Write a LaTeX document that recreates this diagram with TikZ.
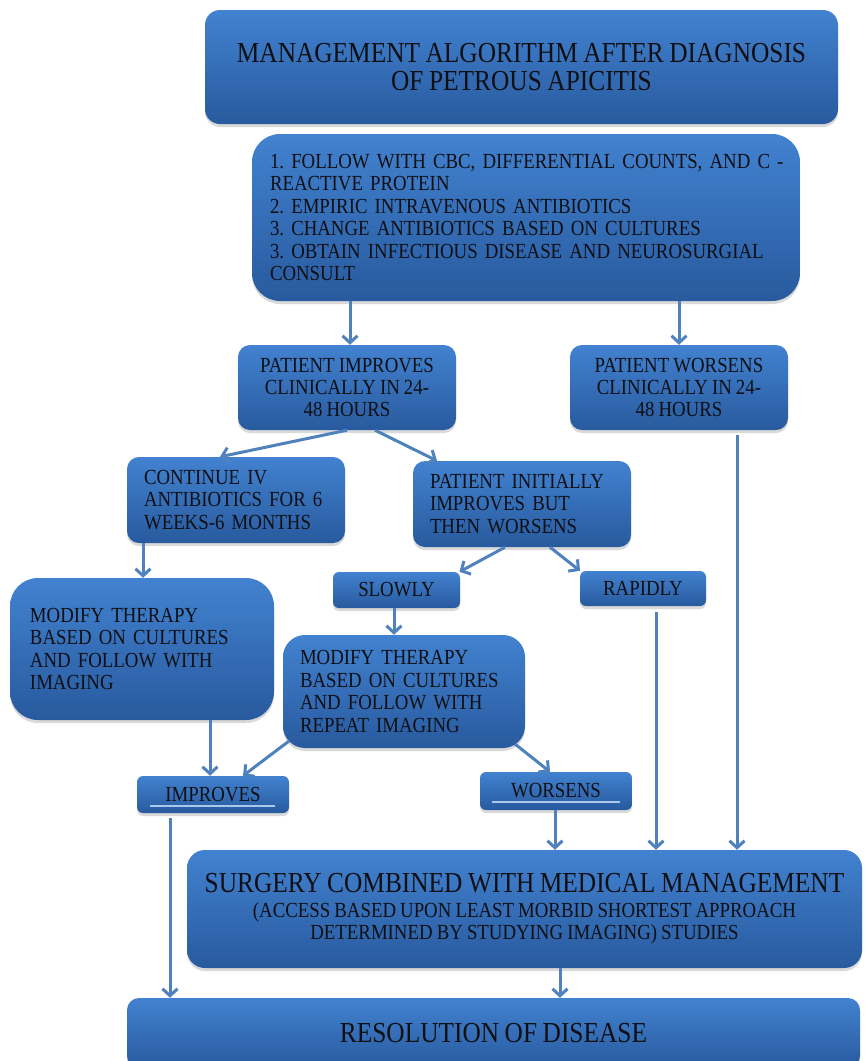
\documentclass[tikz,border=0pt]{standalone}
\usepackage{fontspec}
\setmainfont[FakeStretch=0.875, WordSpace=0.875]{Liberation Serif}
\usetikzlibrary{arrows.meta,shadows,calc}
\definecolor{boxtop}{RGB}{66,130,208}
\definecolor{boxbot}{RGB}{40,90,158}
\definecolor{arr}{RGB}{79,129,189}
\definecolor{ul}{RGB}{170,200,235}
\definecolor{txt}{RGB}{15,15,20}
\frenchspacing
\tikzset{
  box/.style={draw=none, top color=boxtop, bottom color=boxbot, text=txt, inner sep=0pt,
    drop shadow={shadow xshift=0pt, shadow yshift=-3pt, opacity=0.3}},
  normal/.style={font=\fontsize{21.5}{22.4}\selectfont},
  big/.style={font=\fontsize{29}{28}\selectfont},
  conn/.style={draw=arr, line width=3pt, -{Straight Barb[length=7pt,width=15pt]}},
  uline/.style={draw=ul, line width=2pt},
}
\begin{document}
\begin{tikzpicture}[x=1pt,y=-1pt]
\path[use as bounding box] (0,0) rectangle (865,1061);
\clip (0,0) rectangle (865,1061);

\node[box, big, rounded corners=15pt, minimum width=633pt, minimum height=114pt, align=center]
  (title) at (521.5,67) {MANAGEMENT ALGORITHM AFTER DIAGNOSIS\\OF PETROUS APICITIS};

\node[box, normal, rounded corners=28pt, minimum width=548pt, minimum height=167pt, text width=512pt, align=left]
  (box2) at (526,217.5) {\mbox{1. FOLLOW WITH CBC, DIFFERENTIAL COUNTS, AND C -}\\REACTIVE PROTEIN\\2. EMPIRIC INTRAVENOUS ANTIBIOTICS\\3. CHANGE ANTIBIOTICS BASED ON CULTURES\\\mbox{3. OBTAIN INFECTIOUS DISEASE AND NEUROSURGIAL}\\CONSULT};

\node[box, normal, rounded corners=12pt, minimum width=218pt, minimum height=85pt, align=center]
  (imp) at (347,387.5) {PATIENT IMPROVES\\CLINICALLY IN 24-\\48 HOURS};
\node[box, normal, rounded corners=12pt, minimum width=218pt, minimum height=85pt, align=center]
  (wor) at (679,387.5) {PATIENT WORSENS\\CLINICALLY IN 24-\\48 HOURS};

\node[box, normal, rounded corners=12pt, minimum width=218pt, minimum height=86pt, text width=184pt, align=left]
  (cont) at (236,500) {CONTINUE IV\\ANTIBIOTICS FOR 6\\WEEKS-6 MONTHS};
\node[box, normal, rounded corners=12pt, minimum width=218pt, minimum height=86pt, text width=184pt, align=left]
  (init) at (522,504) {PATIENT INITIALLY\\IMPROVES BUT\\THEN WORSENS};

\node[box, normal, rounded corners=6pt, minimum width=127pt, minimum height=36pt]
  (slowly) at (396.5,590) {SLOWLY};
\node[box, normal, rounded corners=6pt, minimum width=126pt, minimum height=35pt]
  (rapidly) at (643,588.5) {RAPIDLY};

\node[box, normal, rounded corners=28pt, minimum width=264pt, minimum height=142pt, text width=224pt, align=left]
  (modL) at (142,649) {MODIFY THERAPY\\BASED ON CULTURES\\AND FOLLOW WITH\\IMAGING};
\node[box, normal, rounded corners=22pt, minimum width=242pt, minimum height=113pt, text width=208pt, align=left]
  (modM) at (404,691.5) {MODIFY THERAPY\\BASED ON CULTURES\\AND FOLLOW WITH\\REPEAT IMAGING};

\node[box, normal, rounded corners=6pt, minimum width=152pt, minimum height=37pt]
  (impr) at (213,794.5) {IMPROVES};
\draw[uline] ([xshift=13pt,yshift=7pt]impr.south west) -- ([xshift=-14pt,yshift=7pt]impr.south east);
\node[box, normal, rounded corners=6pt, minimum width=152pt, minimum height=38pt]
  (wors) at (556,791) {WORSENS};
\draw[uline] ([xshift=12pt,yshift=8pt]wors.south west) -- ([xshift=-12pt,yshift=8pt]wors.south east);

\node[box, normal, rounded corners=18pt, minimum width=675pt, minimum height=118pt, align=center]
  (surg) at (524.5,909) {{\fontsize{29}{28}\selectfont SURGERY COMBINED WITH MEDICAL MANAGEMENT}\\[2pt](ACCESS BASED UPON LEAST MORBID SHORTEST APPROACH\\DETERMINED BY STUDYING IMAGING) STUDIES};

\node[box, big, rounded corners=12pt, minimum width=733pt, minimum height=70pt]
  (res) at (493.5,1033) {RESOLUTION OF DISEASE};

% connectors
\coordinate (p1) at ([xshift=3pt]imp.north);
\draw[conn] (p1 |- box2.south) -- (p1);
\draw[conn] (wor.north |- box2.south) -- (wor.north);
\draw[conn] (imp.south) -- ([xshift=-16pt]cont.north);
\draw[conn] ([xshift=28pt]imp.south) -- ([xshift=-85pt]init.north);
\coordinate (p2) at ([xshift=58pt,yshift=-5pt]wor.south);
\draw[conn] (p2) -- (p2 |- surg.north);
\coordinate (p3) at ([xshift=-93pt]cont.south);
\draw[conn] (p3) -- (p3 |- modL.north);
\draw[conn] ([xshift=-17pt]init.south) -- ([xshift=63pt]slowly.north);
\draw[conn] ([xshift=28pt]init.south) -- ([xshift=-63pt]rapidly.north);
\coordinate (p4) at ([xshift=-2.5pt]slowly.south);
\draw[conn] (p4) -- (p4 |- modM.north);
\coordinate (p5) at ([xshift=13pt,yshift=-6pt]rapidly.south);
\draw[conn] (p5) -- (p5 |- surg.north);
\coordinate (p6) at ([xshift=68pt]modL.south);
\draw[conn] (p6) -- (p6 |- impr.north);
\draw[conn] ([xshift=6pt,yshift=7pt]modM.south west) -- ([xshift=30pt]impr.north);
\draw[conn] ([xshift=-10pt,yshift=4pt]modM.south east) -- ([xshift=-6pt]wors.north);
\coordinate (p7) at ([xshift=-1pt]wors.south);
\draw[conn] (p7) -- (p7 |- surg.north);
\coordinate (p8) at ([xshift=-43pt,yshift=-5pt]impr.south);
\draw[conn] (p8) -- (p8 |- res.north);
\coordinate (p9) at ([xshift=35.5pt]surg.south);
\draw[conn] (p9) -- (p9 |- res.north);
\end{tikzpicture}
\end{document}
